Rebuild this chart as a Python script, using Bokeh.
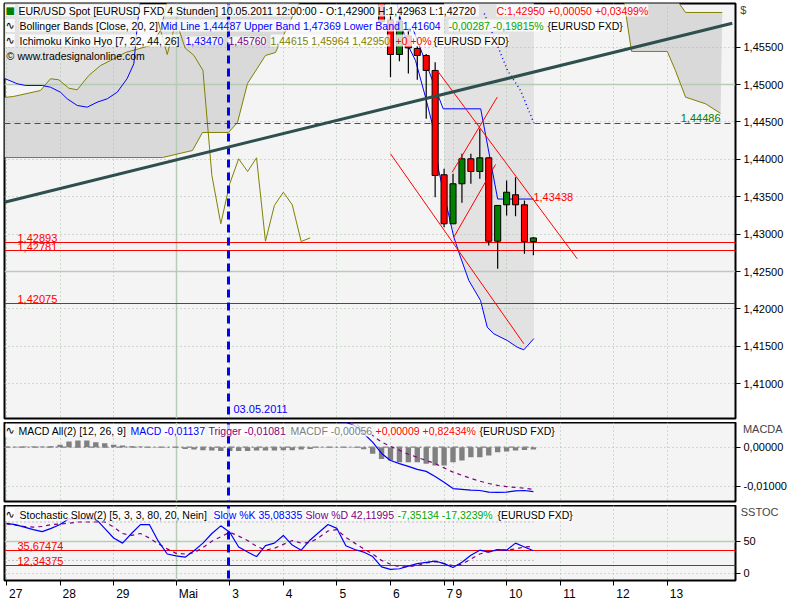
from bokeh.plotting import figure
from bokeh.layouts import column
from bokeh.models import (Range1d, FixedTicker, CustomJSTickFormatter, Label, ColumnDataSource,
                          LinearAxis)
from bokeh.embed import file_html
from bokeh.resources import INLINE

# ---------------- data ----------------
day_labels = ["27", "28", "29", "Mai", "3", "4", "5", "6", "7", "9", "10", "11", "12", "13"]
day_bars = [0, 6, 12, 19, 25, 31, 37, 43, 49, 50, 56, 62, 68, 74]
month_bar = 19
marker_bar = 24.86

candle_bar = [42, 43, 44, 45, 46, 47, 48, 49, 50, 51, 52, 53, 54, 55, 56, 57, 58, 59]
candle_open = [1.4612, 1.4586, 1.45402, 1.4565, 1.45483, 1.45389, 1.45189, 1.43794, 1.43139,
               1.43674, 1.44008, 1.43838, 1.44021, 1.42906, 1.43393, 1.43527, 1.43393, 1.42900]
candle_high = [1.4630, 1.4595, 1.4592, 1.4575, 1.4552, 1.4541, 1.45299, 1.43874, 1.43807,
               1.44075, 1.44075, 1.44409, 1.44021, 1.43384, 1.43718, 1.43762, 1.43451, 1.42963]
candle_low = [1.4580, 1.45099, 1.45313, 1.45148, 1.45064, 1.44543, 1.43495, 1.43094, 1.43139,
              1.43420, 1.43674, 1.43741, 1.42849, 1.42537, 1.43250, 1.43241, 1.42738, 1.42720]
candle_close = [1.4584, 1.45402, 1.4585, 1.4549, 1.45389, 1.45189, 1.43785, 1.43139, 1.43674,
                1.44008, 1.43838, 1.44021, 1.42906, 1.43384, 1.43561, 1.43393, 1.42902, 1.42950]
chikou_shift = 25

bb_bar = [-0.22, 1.2, 2.13, 4.0, 4.93, 6.05, 6.8, 7.92, 9.04, 10.16, 11.28, 12.4, 13.5, 14.26, 14.67,
          15.0, 25, 35, 43.5, 44.68, 45.8, 46.92, 47.67, 48.4, 49.0, 50.09, 50.84, 51.77, 53.08,
          53.83, 54.57, 56.07, 57.19, 57.93, 59.05]
bb_lower = [1.45082, 1.45011, 1.44988, 1.44988, 1.44965, 1.44898, 1.44810, 1.44721, 1.44698, 1.44765,
            1.44810, 1.44898, 1.45078, 1.45278, 1.45817, 1.4612, 1.472, 1.474, 1.462, 1.45590,
            1.45322, 1.44832, 1.44476, 1.43852, 1.43531, 1.42960, 1.42693, 1.42381, 1.42114,
            1.41757, 1.41668, 1.41579, 1.41489, 1.41454, 1.41604]
bb_upper = [1.492, 1.492, 1.493, 1.494, 1.494, 1.494, 1.495, 1.495, 1.495, 1.495, 1.495, 1.496, 1.496,
            1.496, 1.496, 1.496, 1.497, 1.497, 1.496, 1.495, 1.494, 1.493, 1.492, 1.490, 1.489,
            1.488, 1.486, 1.485, 1.483, 1.481, 1.479, 1.477, 1.476, 1.475, 1.47369]
bb_mid_bar = [53.5, 54.76, 56.1, 57.56, 59.05]
bb_mid = [1.4595, 1.45590, 1.45189, 1.44921, 1.44487]
bb_fill_start = 49.0

tenkan_bar = [45.5, 48.9, 53.1, 55.0, 59.05]
tenkan = [1.4575, 1.44676, 1.44676, 1.43470, 1.43470]

senkou_a_bar = [-0.22, 0.78, 3.81, 4.93, 5.86, 6.98, 7.92, 9.22, 10.53, 11.65, 13.33, 16.13, 17.25,
                18.03, 30, 50, 68.5, 69.13, 69.99, 73.99, 74.9, 76.04, 78.28, 79.96]
senkou_a = [1.44828, 1.44841, 1.44921, 1.45078, 1.45064, 1.44952, 1.4493, 1.45122, 1.45255, 1.45322,
            1.45429, 1.45523, 1.45723, 1.46124, 1.478, 1.482, 1.468, 1.46124, 1.45443, 1.45443,
            1.45189, 1.44832, 1.44743, 1.44615]
senkou_b_bar = [-0.22, 17.47, 20.83, 21.95, 24.86, 25.87, 26.99, 29.0, 30.12, 31.8, 32.92, 50,
                74.5, 75.1, 76.04, 80.15]
senkou_b = [1.44025, 1.44025, 1.44119, 1.4436, 1.4436, 1.44493, 1.45015, 1.45389, 1.45429, 1.45857,
            1.46124, 1.475, 1.465, 1.46124, 1.45964, 1.45964]

trend_bar = [-0.22, 81.27]
trend_val = [1.43428, 1.45821]
chan_hi_bar = [48.23, 63.91]
chan_hi_val = [1.45189, 1.42671]
chan_lo_bar = [43.0, 57.93]
chan_lo_val = [1.44075, 1.41535]
rise1_bar = [49.91, 54.95]
rise1_val = [1.43829, 1.44832]
rise2_bar = [50.09, 54.76]
rise2_val = [1.42960, 1.43932]

support_levels = [1.42893, 1.42781, 1.42075]
support_text = ["1,42893", "1,42781", "1,42075"]
green_level = 1.44486
chan_label_val = 1.43438

macd_hist = [0.00013, 0.00013, 0.00018, 0.00018, 0.0002, 0.00026, 0.0006, 0.00146, 0.0017, 0.0017,
             0.00128, 0.001, 0.0006, 0.00044, 0.00026, 0.00018, 0.00008, 0.00008, 0.00008, 0.00008,
             -0.00044, -0.00059, -0.00077, -0.00085, -0.00095, -0.00095, -0.00095, -0.00095,
             -0.00085, -0.00085, -0.00085, -0.00077, -0.00077, -0.00059, -0.00044, -0.00008,
             -0.00008, -0.00008, -0.00008, -0.00008, -0.0005, -0.0017, -0.0030, -0.0034, -0.00384,
             -0.00384, -0.00384, -0.00425, -0.00468, -0.00468, -0.00384, -0.0034, -0.00256,
             -0.00256, -0.00212, -0.00128, -0.0011, -0.00084, -0.00069, -0.00056]
macd_line = [0.0085, 0.0086, 0.0087, 0.0088, 0.0089, 0.009, 0.0092, 0.0094, 0.0096,
             0.0097, 0.0097, 0.0097, 0.0096, 0.0095, 0.0094, 0.0093, 0.0092, 0.0091, 0.009, 0.0089,
             0.0087, 0.0085, 0.0083, 0.0081, 0.0079, 0.0077, 0.0075, 0.0073, 0.0071, 0.0069,
             0.0067, 0.0066, 0.0066, 0.0066, 0.0066, 0.0066, 0.0066, 0.0066, 0.0064, 0.0055,
             0.0035, 0.0013, -0.0016, -0.0034, -0.0042, -0.0049, -0.0057, -0.0062, -0.0075,
             -0.0090, -0.0106, -0.0108, -0.0110, -0.0111, -0.0115, -0.0116, -0.0115, -0.0112,
             -0.0111, -0.01137]
macd_trig = [0.0083, 0.0084, 0.0085, 0.0086, 0.0087, 0.0088, 0.0088, 0.0089, 0.0089, 0.009, 0.009,
             0.009, 0.009, 0.009, 0.009, 0.009, 0.0091, 0.0091, 0.0091, 0.009, 0.009, 0.0089,
             0.0088, 0.0087, 0.0086, 0.0085, 0.0084, 0.0082, 0.008, 0.0078, 0.0076, 0.0074, 0.0072,
             0.007, 0.0068, 0.0067, 0.0067, 0.0067, 0.0066, 0.0062, 0.0045, 0.0030, 0.0013, 0.0002,
             -0.0008, -0.0018, -0.0026, -0.0034, -0.0042, -0.0053, -0.0064, -0.0072, -0.0080,
             -0.0087, -0.0093, -0.0098, -0.0101, -0.0103, -0.0105, -0.01081]

stoch_k = [78, 76, 72, 68, 65, 70, 76, 85, 85, 85, 85, 70, 55, 47, 62, 76, 76, 50, 30, 27, 25, 35,
           47, 62, 74, 64, 41, 33, 26, 43, 47, 59, 44, 36, 52, 64, 76, 70, 43, 37, 33, 26, 10, 6, 7,
           11, 15, 17, 19, 15, 9, 17, 28, 36, 33, 37, 36, 47, 41, 35.08]
stoch_d = [77, 75, 73, 72, 73, 76, 77, 78, 80, 80, 80, 80, 72, 62, 59, 62, 55, 46, 38, 31, 30, 32,
           40, 50, 57, 64, 58, 51, 42, 36, 39, 45, 51, 47, 48, 56, 66, 68, 56, 47, 38, 30, 20, 14,
           10, 10, 12, 16, 18, 15, 12, 14, 22, 30, 34, 36, 36, 38, 41, 42.12]
stoch_levels = [35.67474, 12.34375]
stoch_level_text = ["35,67474", "12,34375"]

# ---------------- styles ----------------
FONT = "Liberation Sans"
BG = "#f4f4f4"
GRID = "#a9bfa9"
GRID_SOLID = "#b7cbb7"
BLUE = "#0000ff"
PURPLE = "#800080"
OLIVE = "#808000"
RED = "#ff0000"
GREEN = "#008000"
LGREEN = "#00a800"
GREY = "#808080"
FW = 731
PX_PER_BAR = 8.93
LEG = "10.5px"

XR = Range1d(-0.22, 81.63)
bars = list(range(len(stoch_k)))


def make_fig(h, y0, y1, bottom, top=0, xaxis=False):
    p = figure(frame_width=FW, frame_height=h, x_range=XR, y_range=Range1d(y0, y1),
               output_backend="svg", toolbar_location=None, y_axis_location="right",
               x_axis_location="below" if xaxis else None,
               min_border_left=4, min_border_right=58, min_border_top=top,
               min_border_bottom=bottom,
               background_fill_color=BG, border_fill_color="white",
               outline_line_color="black", outline_line_width=2)
    p.xgrid.visible = False
    p.ygrid.visible = False
    ax = p.yaxis[0]
    ax.axis_line_color = None
    ax.major_tick_out = 5
    ax.major_tick_in = 0
    ax.minor_tick_line_color = None
    ax.major_tick_line_color = "black"
    ax.major_label_text_font = FONT
    ax.major_label_text_font_size = "11px"
    ax.major_label_text_color = "black"
    ax.major_label_standoff = 3
    return p


def side_title(ax, text, standoff):
    # unit name written at the top of the right axis
    try:
        ax.axis_label = "\n" + text
        ax.axis_label_text_font = FONT
        ax.axis_label_text_font_size = "11px"
        ax.axis_label_text_font_style = "normal"
        ax.axis_label_text_line_height = 1.1
        ax.axis_label_orientation = "horizontal"
        ax.axis_label_align = "end"
        ax.axis_label_standoff = standoff
    except Exception:
        pass


def vgrid(p):
    other = [b for b in day_bars if b != month_bar]
    p.vspan(x=other, line_color=GRID, line_width=1, line_dash="1 3")
    p.vspan(x=[month_bar], line_color=GRID_SOLID, line_width=1.5)


def seg(p, h, x, y_top, text, color, bg=True, size=LEG, font=FONT):
    p.add_layout(Label(x=x, y=h - y_top, x_units="screen", y_units="screen", text=text,
                       text_color=color, text_font=font, text_font_size=size,
                       text_baseline="middle",
                       background_fill_color="white" if bg else None,
                       background_fill_alpha=0.78 if bg else 0))


# ================= main panel =================
H1 = 415
p1 = make_fig(H1, 1.40536, 1.46084, 4, top=3)
p1.yaxis[0].ticker = FixedTicker(ticks=[1.41, 1.415, 1.42, 1.425, 1.43, 1.435, 1.44, 1.445, 1.45, 1.455])
p1.yaxis[0].formatter = CustomJSTickFormatter(code="return tick.toFixed(5).replace('.', ',')")
side_title(p1.yaxis[0], "$", -46)

# fills
left_fill = [i for i, b in enumerate(bb_bar) if b <= 15.0]
right_fill = [i for i, b in enumerate(bb_bar) if b >= bb_fill_start]
for idx in (left_fill, right_fill):
    p1.varea(x=[bb_bar[i] for i in idx], y1=[bb_lower[i] for i in idx],
             y2=[bb_upper[i] for i in idx], fill_color="#e2e2e2")
p1.patch(x=senkou_a_bar + senkou_b_bar[::-1], y=senkou_a + senkou_b[::-1],
         fill_color="#d9d9d9", line_color=None)
# grid
vgrid(p1)
p1.hspan(y=[1.41, 1.415, 1.42, 1.43, 1.435, 1.44, 1.445, 1.455], line_color=GRID, line_dash="1 3")
p1.hspan(y=[1.425, 1.45], line_color=GRID_SOLID, line_width=1.5)

# ichimoku
p1.line(senkou_a_bar, senkou_a, line_color=OLIVE, line_width=1)
p1.line(senkou_b_bar, senkou_b, line_color=OLIVE, line_width=1)
p1.line([b - chikou_shift for b in candle_bar], candle_close, line_color=OLIVE, line_width=1)
p1.line(tenkan_bar, tenkan, line_color=BLUE, line_width=1)
# bollinger
p1.line(bb_bar, bb_lower, line_color=BLUE, line_width=1)
p1.line(bb_mid_bar, bb_mid, line_color=BLUE, line_width=1.5, line_dash="1 3")

# levels
p1.hspan(y=support_levels, line_color=RED, line_width=1)
p1.hspan(y=[green_level], line_color=GREEN, line_width=1.2, line_dash="6 4")
p1.vspan(x=[marker_bar], line_color=BLUE, line_width=3, line_dash="8 5")

# candles
up = [c >= o for o, c in zip(candle_open, candle_close)]
csrc = ColumnDataSource(dict(x=candle_bar, o=candle_open, h=candle_high, l=candle_low, c=candle_close,
                             top=[max(o, c) for o, c in zip(candle_open, candle_close)],
                             bot=[min(o, c) for o, c in zip(candle_open, candle_close)],
                             col=[GREEN if u else RED for u in up]))
p1.segment(x0="x", y0="h", x1="x", y1="l", source=csrc, line_color="black", line_width=1.2)
p1.vbar(x="x", top="top", bottom="bot", width=0.68, source=csrc, fill_color="col",
        line_color="black", line_width=1)

# trend lines
p1.line(chan_hi_bar, chan_hi_val, line_color=RED, line_width=1)
p1.line(chan_lo_bar, chan_lo_val, line_color=RED, line_width=1)
p1.line(rise1_bar, rise1_val, line_color=RED, line_width=1)
p1.line(rise2_bar, rise2_val, line_color=RED, line_width=1)
p1.line(trend_bar, trend_val, line_color="#2f4f4f", line_width=3)

# value labels
for v, t in zip(support_levels, support_text):
    p1.add_layout(Label(x=13, y=v, x_units="screen", text=t, text_color=RED, text_font=FONT,
                        text_font_size="11px", text_baseline="bottom", y_offset=0))
p1.add_layout(Label(x=716, y=green_level, x_units="screen", text="1,44486", text_color=GREEN,
                    text_font=FONT, text_font_size="11px", text_baseline="bottom", text_align="right",
                    y_offset=1))
p1.add_layout(Label(x=59.0, y=chan_label_val, text="1,43438", text_color=RED, text_font=FONT,
                    text_font_size="11px", text_baseline="bottom", y_offset=0))
p1.add_layout(Label(x=marker_bar, y=10, y_units="screen", x_offset=5, text="03.05.2011",
                    text_color=BLUE, text_font=FONT, text_font_size="11px", text_baseline="middle"))

# legend rows
seg(p1, H1, 1, 7, "■", GREEN, size="10px", font="DejaVu Sans")
seg(p1, H1, 14, 7, "EUR/USD Spot [EURUSD FXD  4 Stunden] 10.05.2011 12:00:00 - O:1,42900 H:1,42963 L:1,42720", "black")
seg(p1, H1, 492, 7, "C:1,42950 +0,00050 +0,03499%", RED)
seg(p1, H1, 1, 22, "∿", "black", size="11px", font="DejaVu Sans")
seg(p1, H1, 15, 22, "Bollinger Bands [Close, 20, 2]", "black")
seg(p1, H1, 156, 22, "Mid Line 1,44487 Upper Band 1,47369 Lower Band 1,41604", BLUE)
seg(p1, H1, 444, 22, "-0,00287 -0,19815%", LGREEN)
seg(p1, H1, 543, 22, "{EURUSD FXD}", "black")
seg(p1, H1, 1, 37, "∿", "black", size="11px", font="DejaVu Sans")
seg(p1, H1, 15, 37, "Ichimoku Kinko Hyo [7, 22, 44, 26]", "black")
seg(p1, H1, 181, 37, "1,43470", BLUE)
seg(p1, H1, 224, 37, "1,45760", PURPLE)
seg(p1, H1, 266, 37, "1,44615 1,45964 1,42950", OLIVE)
seg(p1, H1, 391, 37, "+0 +0%", RED)
seg(p1, H1, 429, 37, "{EURUSD FXD}", "black")
seg(p1, H1, 2, 52, "©", "black", bg=False)
seg(p1, H1, 13, 52, "www.tradesignalonline.com", "black", bg=False)

# ================= MACD panel =================
H2 = 79
p2 = make_fig(H2, -0.01392, 0.00633, 4)
p2.yaxis[0].ticker = FixedTicker(ticks=[-0.01, 0.0])
p2.yaxis[0].formatter = CustomJSTickFormatter(code="return tick.toFixed(5).replace('.', ',')")
side_title(p2.yaxis[0], "MACDA", -47)
vgrid(p2)
p2.hspan(y=[0.0, -0.01], line_color=GRID, line_dash="1 3")
p2.line([XR.start, bars[-1]], [0, 0], line_color=GREY, line_width=1.2, line_dash="6 3 2 3")
p2.vbar(x=bars, top=macd_hist, bottom=0, width=0.6, fill_color=GREY, line_color=None)
p2.line(bars, macd_trig, line_color=PURPLE, line_width=1.2, line_dash="4 4")
p2.line(bars, macd_line, line_color=BLUE, line_width=1.2)
p2.vspan(x=[marker_bar], line_color=BLUE, line_width=3, line_dash="8 5")
seg(p2, H2, 1, 8, "∿", "black", size="11px", font="DejaVu Sans")
seg(p2, H2, 14, 8, "MACD All(2) [12, 26, 9]", "black")
seg(p2, H2, 126, 8, "MACD -0,01137", BLUE)
seg(p2, H2, 204, 8, "Trigger -0,01081", PURPLE)
seg(p2, H2, 286, 8, "MACDF -0,00056", GREY)
seg(p2, H2, 371, 8, "+0,00009 +0,82434%", RED)
seg(p2, H2, 475, 8, "{EURUSD FXD}", "black")

# ================= Stochastic panel =================
H3 = 75
p3 = make_fig(H3, -11.4, 105.8, 19, xaxis=True)
p3.yaxis[0].ticker = FixedTicker(ticks=[0, 50])
side_title(p3.yaxis[0], "SSTOC", -18)
xa = p3.xaxis[0]
xa.ticker = FixedTicker(ticks=day_bars)
xa.formatter = CustomJSTickFormatter(code="return ''")
xa.major_label_text_font_size = "1px"
xa.major_label_standoff = 0
xa.axis_line_color = None
xa.major_tick_out = 5
xa.major_tick_in = 0
xa.minor_tick_line_color = None
xa.major_tick_line_color = "black"

# day labels: a second axis whose labels start just right of each day tick
char_w = {"M": 10.0, "a": 6.67, "i": 2.67}
label_pos = [b + (2.5 + sum(char_w.get(ch, 6.67) for ch in t) / 2) / PX_PER_BAR
             for b, t in zip(day_bars, day_labels)]
xb = LinearAxis(ticker=FixedTicker(ticks=label_pos),
                formatter=CustomJSTickFormatter(args=dict(pos=label_pos, labs=day_labels), code="""
                    let best = 0;
                    for (let i = 0; i < pos.length; i++) {
                        if (Math.abs(pos[i] - tick) < Math.abs(pos[best] - tick)) best = i;
                    }
                    return labs[best];"""),
                axis_line_color=None, major_tick_out=0, major_tick_in=0, major_tick_line_color=None,
                minor_tick_line_color=None, major_label_standoff=1,
                major_label_text_font=FONT, major_label_text_font_size="12px",
                major_label_text_color="black")
p3.add_layout(xb, "below")

vgrid(p3)
p3.hspan(y=[0], line_color=GRID, line_dash="1 3")
p3.hspan(y=[50], line_color=GRID_SOLID, line_width=1.5)
p3.line([XR.start, bars[-1]], [80, 80], line_color="#8c8c8c", line_dash="1 3")
p3.line([XR.start, bars[-1]], [20, 20], line_color="#8c8c8c", line_dash="1 3")
p3.hspan(y=stoch_levels, line_color=RED, line_width=1.2)
p3.line(bars, stoch_d, line_color=PURPLE, line_width=1.2, line_dash="4 4")
p3.line(bars, stoch_k, line_color=BLUE, line_width=1.2)
p3.vspan(x=[marker_bar], line_color=BLUE, line_width=3, line_dash="8 5")
for v, t in zip(stoch_levels, stoch_level_text):
    p3.add_layout(Label(x=13, y=v, x_units="screen", text=t, text_color=RED, text_font=FONT,
                        text_font_size="11px", text_baseline="bottom"))
seg(p3, H3, 1, 9, "∿", "black", size="11px", font="DejaVu Sans")
seg(p3, H3, 15, 9, "Stochastic Slow(2) [5, 3, 3, 80, 20, Nein]", "black")
seg(p3, H3, 209, 9, "Slow %K 35,08335", BLUE)
seg(p3, H3, 301, 9, "Slow %D 42,11995", PURPLE)
seg(p3, H3, 393, 9, "-7,35134 -17,3239%", LGREEN)
seg(p3, H3, 493, 9, "{EURUSD FXD}", "black")

layout = column(p1, p2, p3, spacing=0)
open("out.html", "w").write(file_html(layout, INLINE))
